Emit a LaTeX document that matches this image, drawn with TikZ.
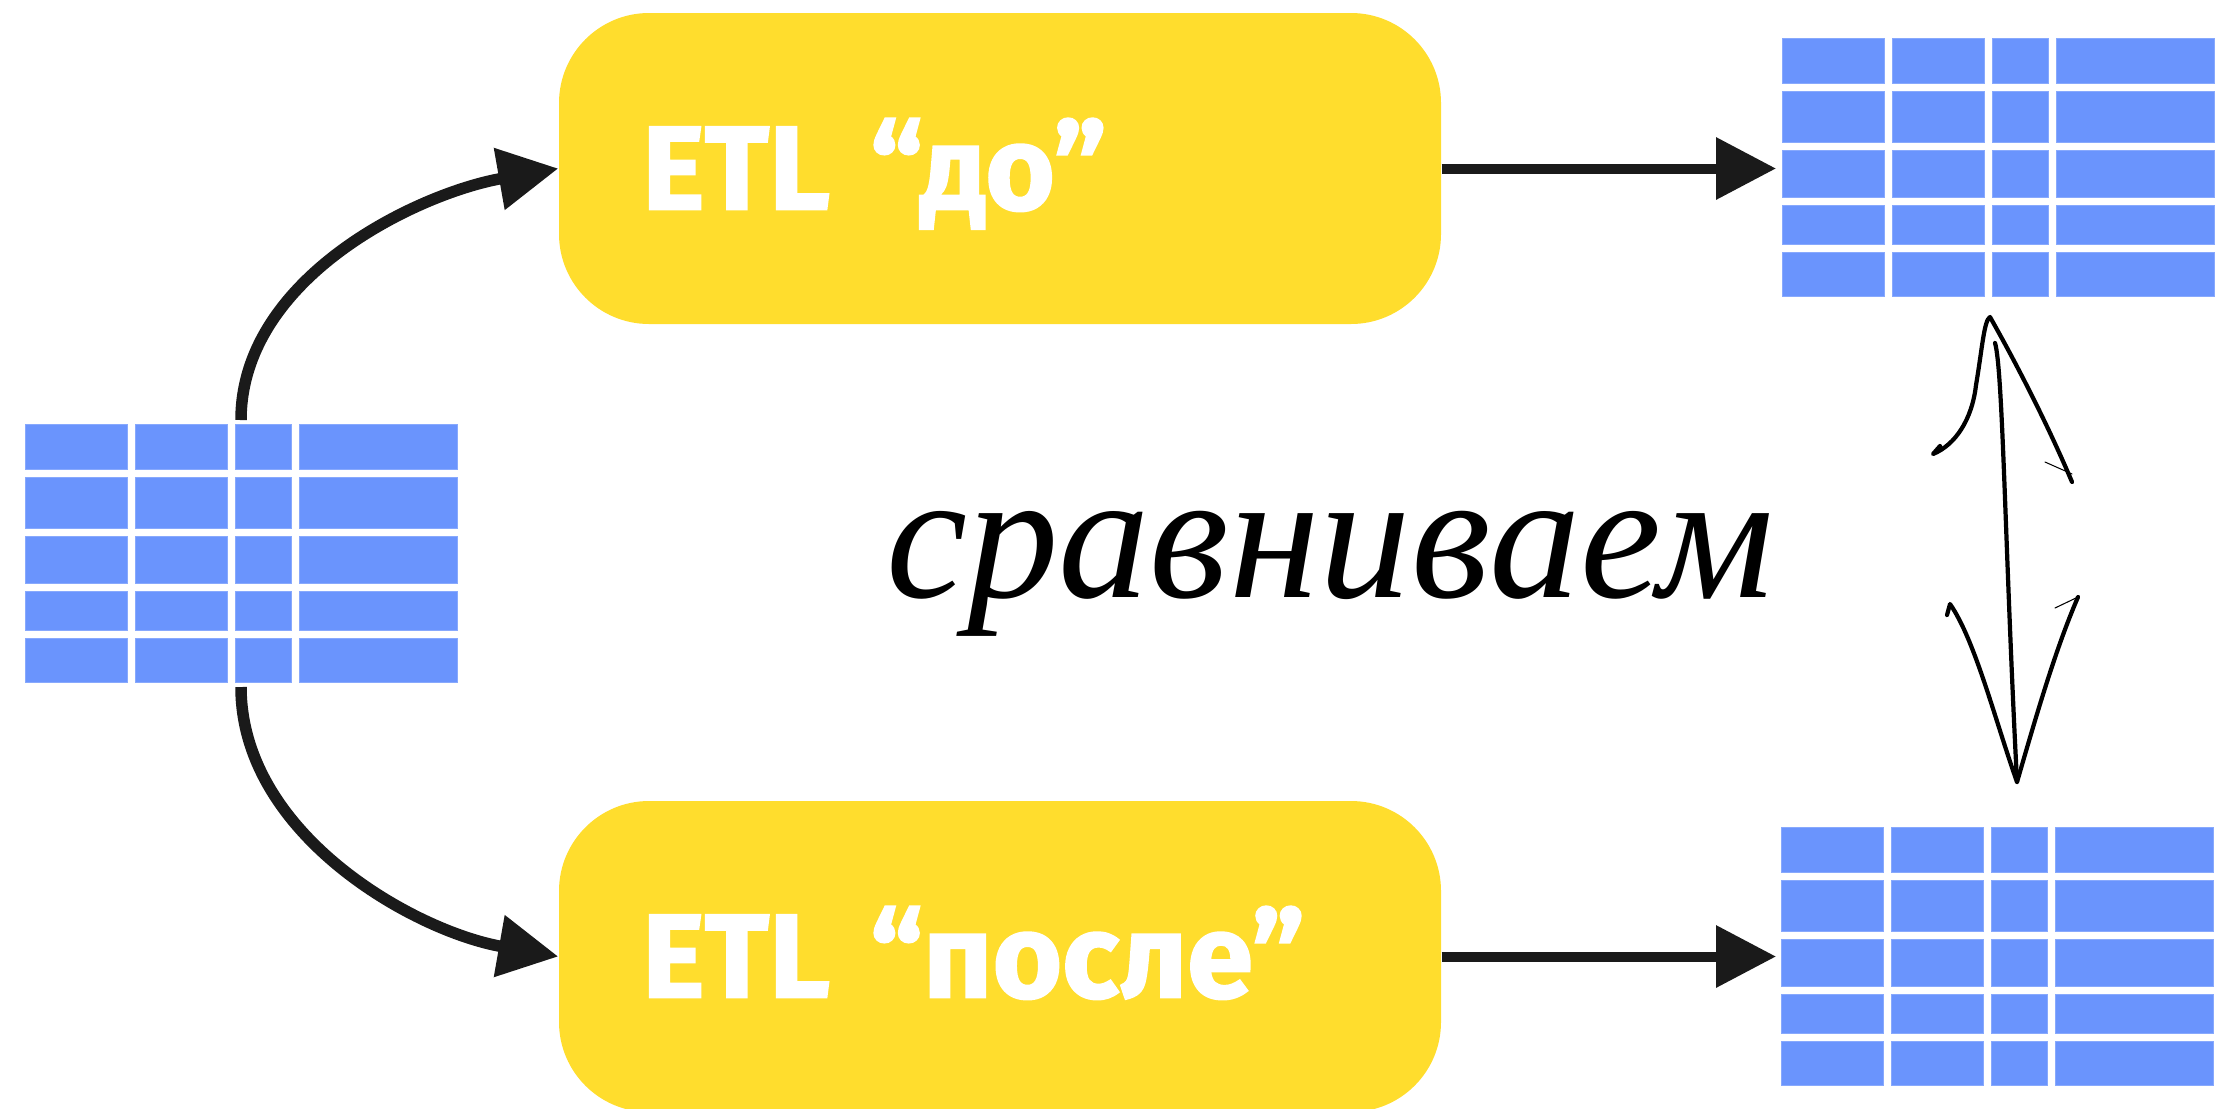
\documentclass[tikz,border=0pt]{standalone}
\usepackage{fontspec}
\usepackage{xcolor}
\usepackage{tikz}
\usetikzlibrary{arrows.meta, positioning, calc}

\newfontfamily\etlfont[FakeBold=1.6]{Fira Sans}
\newfontfamily\handfont{Liberation Serif}

\definecolor{etlyellow}{HTML}{FFDD2D}
\definecolor{cellblue}{HTML}{6A94FD}
\definecolor{arrowblack}{HTML}{1A1A1A}

% таблица: пустой узел-рамка и 4x5 синих ячеек внутри
\newcommand{\datatable}[2]{%
  \node[tbl] (#1) at (#2) {};
  \foreach \xa/\xb in {0/1.02, 1.10/2.02, 2.10/2.66, 2.74/4.32}
    \foreach \ya/\yb in {0/0.45, 0.53/1.04, 1.12/1.59, 1.67/2.06, 2.14/2.58}
      \filldraw[cell] ($(#1.north west)+(\xa,-\ya)$)
        rectangle ($(#1.north west)+(\xb,-\yb)$);
}

\begin{document}
\begin{tikzpicture}[
  tbl/.style={
    rectangle, inner sep=0pt, outer sep=0pt,
    minimum width=4.32cm, minimum height=2.58cm
  },
  cell/.style={fill=cellblue, draw=cellblue!80!white, line width=0.2pt},
  etl/.style={
    rectangle, rounded corners=0.9cm, fill=etlyellow,
    minimum width=8.82cm, minimum height=3.11cm,
    text width=7.16cm, align=left, inner xsep=0.83cm,
    text height=0.82cm, text depth=0pt,
    text=white, font=\etlfont\bfseries\fontsize{33.9}{38}\selectfont
  },
  hand/.style={
    font=\handfont\itshape\fontsize{52}{60}\selectfont, inner sep=0pt
  },
  arr/.style={-{Triangle[length=6mm, width=6mm]}, draw=arrowblack,
    line width=0.115cm},
  pen/.style={draw=black, line width=1.2pt, line cap=round, line join=round}
]

\useasboundingbox (0,0) rectangle (22.26,-11.08);

% ── Таблицы ───────────────────────────────────────────────────
\datatable{src}{2.41,-5.53}
\datatable{before}{19.98,-1.67}
\datatable{after}{19.97,-9.56}

% ── ETL-блоки ─────────────────────────────────────────────────
\node[etl] (etlDo)    at (10.00,-1.685) {ETL “до”};
\node[etl] (etlPosle) at (10.00,-9.565) {ETL “после”};

% ── Подпись ───────────────────────────────────────────────────
\node[hand, anchor=base] (cmp) at (13.30,-5.97) {сравниваем};

% ── Стрелки ───────────────────────────────────────────────────

% src → ETL до  (вверх и вправо)
\draw[arr] ([yshift=0.4mm]src.north) to[out=90, in=190, looseness=0.9]
  (etlDo.west);

% src → ETL после  (вниз и вправо)
\draw[arr] ([yshift=-0.5mm]src.south) to[out=-90, in=170, looseness=0.9]
  (etlPosle.west);

% ETL → таблицы справа
\draw[arr, line width=0.1cm, shorten >=0.6mm]
  (etlDo.east) -- (etlDo.east -| before.west);
\draw[arr, line width=0.1cm, shorten >=0.5mm]
  (etlPosle.east) -- (etlPosle.east -| after.west);

% ── Двойная стрелка от руки ───────────────────────────────────
\coordinate (cmpTop) at (19.90,-3.17);
\coordinate (cmpBot) at (20.17,-7.82);

% верхний наконечник
\draw[pen] (19.40,-4.46) -- (19.33,-4.54)
  .. controls (19.55,-4.45) and (19.72,-4.20) .. (19.76,-3.85)
  .. controls (19.82,-3.50) and (19.84,-3.20) .. (cmpTop)
  .. controls (20.20,-3.70) and (20.50,-4.30) .. (20.72,-4.82);
\draw[pen, line width=0.3pt] (20.45,-4.62) -- (20.72,-4.74);

% стержень
\draw[pen] (19.95,-3.43) .. controls (20.03,-3.70) and (20.05,-5.50) .. (cmpBot);

% нижний наконечник
\draw[pen] (19.47,-6.15) -- (19.50,-6.04)
  .. controls (19.75,-6.40) and (19.95,-7.20) .. (cmpBot)
  .. controls (20.35,-7.20) and (20.55,-6.50) .. (20.78,-5.97);
\draw[pen, line width=0.3pt] (20.55,-6.08) -- (20.78,-5.97);

\end{tikzpicture}
\end{document}
